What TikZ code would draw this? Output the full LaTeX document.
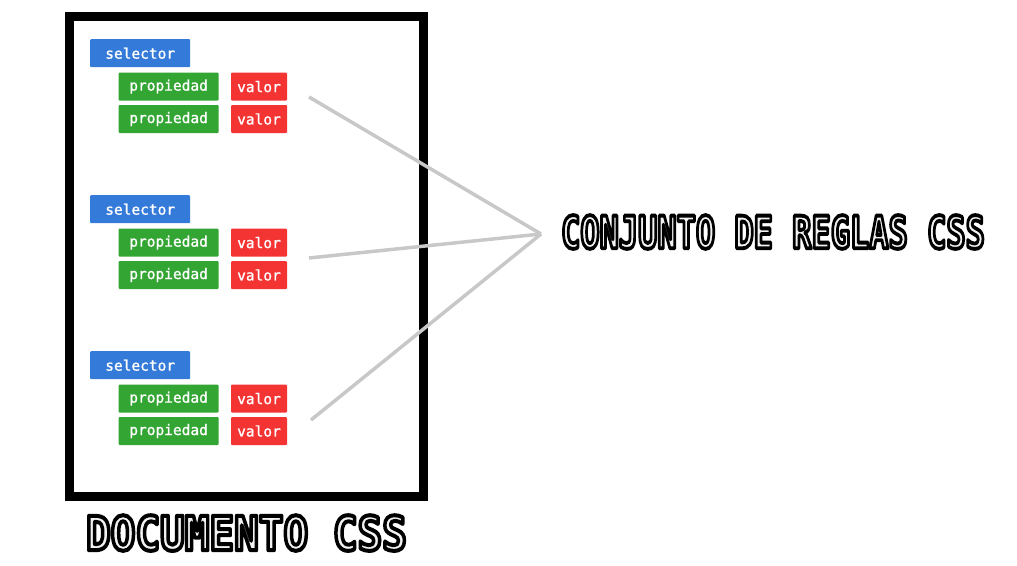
\documentclass[tikz,border=0pt]{standalone}
\usepackage{fontspec}
\usepackage{graphicx}
\usetikzlibrary{positioning}

\newfontfamily\boxfont{DejaVu Sans Mono}[FakeBold=1.2]
\newfontfamily\pixfont{DejaVu Sans Mono Bold}[FakeBold=8.5]
\newcommand\outlined[1]{\special{pdf:literal direct 1 j}\special{pdf:bcolor [0.95] [0]}#1\special{pdf:ecolor}}

\definecolor{selblue}{RGB}{52,122,216}
\definecolor{propgreen}{RGB}{51,165,51}
\definecolor{valred}{RGB}{244,51,51}
\definecolor{linkgray}{RGB}{200,200,200}

\begin{document}
\begin{tikzpicture}[
    x=1pt, y=-1pt,
    box/.style={inner sep=0pt, minimum height=28pt, text=white, font=\boxfont\fontsize{14.5}{14.5}\selectfont, rounded corners=1pt},
    sel/.style={box, fill=selblue, minimum width=100pt},
    prop/.style={box, fill=propgreen, minimum width=100pt},
    val/.style={box, fill=valred, minimum width=56pt},
    doc/.style={draw=black, line width=9pt, minimum width=354pt, minimum height=480pt},
    link/.style={draw=linkgray, line width=3.5pt},
    pix/.style={inner sep=0pt}]

    \useasboundingbox (0,0) rectangle (1017,565);

    \node at (246.5,256.5) [doc] (frame) {};

    % first rule
    \node at (90,39) [sel, anchor=north west] (sel1) {selector};
    \node [prop, below right=5pt and -72pt of sel1] (prop1a) {propiedad};
    \node [prop, below=4pt of prop1a] (prop1b) {propiedad};
    \node [val, right=12pt of prop1a] (val1a) {valor};
    \node [val, right=12pt of prop1b] (val1b) {valor};

    % second rule
    \node at (90,195) [sel, anchor=north west] (sel2) {selector};
    \node [prop, below right=5pt and -72pt of sel2] (prop2a) {propiedad};
    \node [prop, below=4pt of prop2a] (prop2b) {propiedad};
    \node [val, right=12pt of prop2a] (val2a) {valor};
    \node [val, right=12pt of prop2b] (val2b) {valor};

    % third rule
    \node at (90,351) [sel, anchor=north west] (sel3) {selector};
    \node [prop, below right=5pt and -72pt of sel3] (prop3a) {propiedad};
    \node [prop, below=4pt of prop3a] (prop3b) {propiedad};
    \node [val, right=12pt of prop3a] (val3a) {valor};
    \node [val, right=12pt of prop3b] (val3b) {valor};

    \node at (773,232) [pix] (rules) {\pixfont\fontsize{32}{32}\selectfont\scalebox{1}[1.4]{\outlined{CONJUNTO DE REGLAS CSS}}};
    \node [pix, below=14pt of frame] (doclabel) {\pixfont\fontsize{41}{41}\selectfont\scalebox{1}[1.15]{\outlined{DOCUMENTO CSS}}};

    \coordinate (hub) at (541,234);
    \coordinate (end1) at (309,97);
    \coordinate (end2) at (309,258);
    \coordinate (end3) at (311,420);

    \path (end1) edge [link] (hub);
    \path (end2) edge [link] (hub);
    \path (end3) edge [link] (hub);

\end{tikzpicture}
\end{document}
